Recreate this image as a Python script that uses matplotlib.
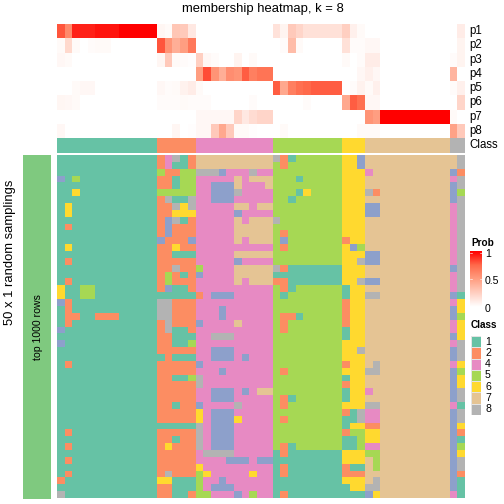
#membership heatmap for k = 8, one class per row/column cell, probabilities on top
import matplotlib
matplotlib.use('Agg')
import matplotlib.pyplot as plt
from matplotlib.colors import ListedColormap, LinearSegmentedColormap
import numpy as np

plt.rcParams['font.family'] = ['Liberation Sans', 'DejaVu Sans']

class_labels = [1, 2, 4, 5, 6, 7, 8]
class_counts = [13, 5, 10, 9, 3, 11, 2]
prob_names = ['p1', 'p2', 'p3', 'p4', 'p5', 'p6', 'p7', 'p8']
prob_ticks = ['1', '0.5', '0']

#class colours, index 0 is class 1
class_colors = ['#66C2A5', '#FC8D62', '#8DA0CB', '#E78AC3', '#A6D854', '#FFD92F', '#E5C494', '#B3B3B3']

#membership probabilities, 53 columns each
p1 = [.8, .6, .92, .92, .92, .95, .95, .95, 1, 1, 1, 1, 1, .05, .03, .3, .28, .12, 0, 0, 0, 0, 0, 0, 0, 0, 0, 0,
      .15, .06, .28, .22, .16, .16, .16, .16, .16, .25, .08, .03, 0, 0, 0, 0, 0, 0, 0, 0, 0, 0, 0, 0, .1]
p2 = [.03, .2, .03, 0, .02, .03, .03, 0, 0, 0, 0, 0, 0, .8, .55, .42, .5, .68, 0, 0, 0, 0, 0, 0, 0, 0, 0, 0,
      0, .02, .35, .03, 0, 0, 0, 0, 0, .16, .02, .02, .04, .04, 0, 0, 0, 0, 0, 0, 0, 0, 0, 0, .06]
p3 = [.04, .03, 0, 0, 0, 0, 0, 0, 0, 0, 0, 0, 0, .05, .28, .03, .02, .01, .25, .04, .02, 0, 0, .06, 0, .03, 0, 0,
      0, 0, 0, 0, 0, 0, 0, 0, 0, .03, 0, .02, .1, .1, 0, 0, 0, 0, 0, 0, 0, 0, 0, .02, .06]
p4 = [0, 0, 0, 0, 0, 0, 0, 0, 0, 0, 0, 0, 0, 0, 0, 0, 0, 0, .5, .82, .55, .42, .58, .55, .78, .65, .7, .7,
      0, 0, 0, 0, 0, 0, 0, 0, 0, 0, 0, .04, .08, .04, 0, 0, 0, 0, 0, 0, 0, 0, 0, .38, 0]
p5 = [0, 0, .03, .04, .04, 0, 0, 0, 0, 0, 0, 0, 0, .04, .02, .03, .07, .1, .03, 0, 0, 0, 0, 0, 0, 0, 0, 0,
      .78, .45, .65, .72, .75, .78, .78, .78, .78, 0, .02, .07, .03, .08, 0, 0, 0, 0, 0, 0, 0, 0, 0, .02, .08]
p6 = [.05, .04, .03, 0, 0, 0, 0, 0, 0, 0, 0, 0, 0, .02, .02, .02, .03, .02, .02, .02, 0, 0, 0, 0, 0, .02, 0, 0,
      0, 0, 0, 0, .02, 0, 0, 0, 0, .45, .78, .72, .04, .04, 0, 0, 0, 0, 0, 0, 0, 0, 0, 0, .22]
p7 = [0, 0, 0, 0, 0, 0, 0, 0, 0, 0, 0, 0, 0, 0, 0, 0, 0, 0, .04, .04, .04, .04, .04, .22, .12, .18, .22, .22,
      0, 0, 0, 0, 0, 0, 0, 0, 0, 0, 0, 0, .55, .5, 1, 1, 1, 1, 1, 1, 1, 1, 1, .03, 0]
p8 = [.04, 0, 0, 0, 0, 0, 0, 0, 0, 0, 0, 0, 0, 0, 0, .05, 0, .01, .04, .04, .28, .45, .28, .03, .03, .01, 0, 0,
      0, .03, 0, 0, 0, 0, 0, 0, 0, 0, 0, .03, .03, .03, 0, 0, 0, 0, 0, 0, 0, 0, 0, .48, .28]

#class found in each random sampling, groups split by consensus class
sampling_rows = [
    '1111111111111 24812 7777777777 821555555 663 77777777777 78',
    '1111111111111 24112 7777777777 525555555 663 77777777777 78',
    '1111111111111 52255 8883444844 555555555 666 47777777777 32',
    '3151111111111 22155 4444474777 555155555 666 77777777777 48',
    '1111111111111 22155 4433374447 555555555 666 77777777777 38',
    '1161111111111 55555 4433384444 555165555 666 82777777777 35',
    '1111111111111 28118 4433344444 551555555 666 77777777777 38',
    '1611111111111 22868 4444477477 555555555 666 33777777777 48',
    '1611111111111 22666 4444434444 555555555 666 33777777777 48',
    '1111111111111 23812 4444474777 855555555 666 77777777777 48',
    '1211111111111 23222 4444477777 555555555 666 77777777777 48',
    '1111111111111 23222 4444477777 525555555 666 77777777777 48',
    '1111111111111 32223 4444474777 535555555 266 77777777777 48',
    '1611111111111 22622 4444444444 525555555 635 77777777777 48',
    '1111111111111 22111 4444477777 555555555 666 33777777777 48',
    '1211111111111 22222 4444434444 555555555 668 33777777777 48',
    '1111111111111 22822 5444477777 821111111 666 77777777777 38',
    '1111111111111 25212 3444477777 111111111 666 77777777777 48',
    '1211111111111 25222 4444474777 221111111 668 33777777777 48',
    '6115511111111 23112 4444444444 521555555 166 77777777777 48',
    '6115511111111 11111 2433344444 515555555 166 88777777777 31',
    '3211111111111 88222 4444444444 555555555 266 77777777777 46',
    '1211111111111 88222 4443444444 555555555 266 77777777777 36',
    '1221122211111 88222 4443444444 522155555 266 77777777777 35',
    '1211111111111 28222 3444474444 525555555 266 77777777777 46',
    '3111111111111 28112 4444444444 525555555 166 77777777777 46',
    '1111111111111 22111 4488844444 555555555 166 77777777777 36',
    '3111111111111 22115 4444444444 555555555 666 77777777777 48',
    '1111111111111 22222 4433344444 555555555 668 77777777777 38',
    '1111111111111 12111 4433343444 555555555 666 77777777777 38',
    '1211111111111 22222 3444444444 555555555 266 78777777777 46',
    '1111111111111 22222 4443444444 525555555 666 88777777777 35',
    '1111111111111 22115 8444444444 555555555 166 77777777777 36',
    '1111111111111 22222 8444444444 555555555 266 77777777777 36',
    '1111111111111 22222 4433343477 555555555 166 47777777777 38',
    '1111111111111 22222 4433344444 521555555 166 77777777777 38',
    '1111111111111 22122 3444484444 525555555 666 88777777777 41',
    '1111111111111 22222 6433344444 555555555 218 44777777777 38',
    '1111111111111 22222 6433364444 525555555 118 44777777777 38',
    '1111111111111 11111 8433344444 555555555 166 22777777777 36',
    '1211111111111 22222 8433344444 555555555 255 66777777777 32',
    '1111111111111 22122 8433344444 555555555 115 66777777777 31',
    '1211111111111 26222 8433344444 521555555 115 44777777777 35',
    '1111111111111 22222 4888844444 121111111 666 55777777777 36',
    '1211111111111 22222 4444333433 111111111 666 75777777777 38',
    '1111111111111 22222 6444444444 121111111 211 75777777777 38',
    '1211111111111 28222 5644444644 121111111 222 77777777777 32',
    '2111111111111 66111 5443444444 111111111 666 78777777777 31',
    '1111111111111 22111 5433344444 111111111 166 88777777777 31',
    '8111111111111 22112 5544434544 121111111 111 36777777777 41',
]


#axes placed in pixels measured from the top left of the 504x504 picture
def px_axes(left, top, right, bottom):
    ax = fig.add_axes([left / 504, 1 - bottom / 504, (right - left) / 504, (bottom - top) / 504])
    ax.set_axis_off()
    return ax


def px_text(x, y, s, **kw):
    fig.text(x / 504, 1 - y / 504, s, **kw)


fig = plt.figure(figsize=(7, 7), dpi=72)

class_cmap = ListedColormap(class_colors)
prob_cmap = LinearSegmentedColormap.from_list(
    'prob', ['#FFFFFF', '#FFCFC1', '#FF9E81', '#FF6A4B', '#FF0000'])

#probability rows
probs = np.array([p1, p2, p3, p4, p5, p6, p7, p8])
ax = px_axes(57, 24, 465, 138)
ax.pcolormesh(probs, cmap=prob_cmap, vmin=0, vmax=1, antialiased=False)
ax.invert_yaxis()

#consensus class bar
consensus = np.repeat(class_labels, class_counts)
ax = px_axes(57, 138, 465, 153)
ax.pcolormesh(consensus.reshape(1, -1), cmap=class_cmap, vmin=0.5, vmax=8.5, antialiased=False)

#main heatmap
matrix = np.array([[int(ch) for ch in row.replace(' ', '')] for row in sampling_rows])
ax = px_axes(57, 155, 465, 498)
ax.pcolormesh(matrix, cmap=class_cmap, vmin=0.5, vmax=8.5, antialiased=False)
ax.invert_yaxis()

#green bar on the left
ax = px_axes(23, 155, 51, 499)
ax.set_facecolor('#7FC97F')
ax.set_axis_on()
ax.set_xticks([])
ax.set_yticks([])
for side in ax.spines.values():
    side.set_visible(False)

#texts
px_text(263, 9, 'membership heatmap, k = 8', fontsize=13, ha='center', va='center')
px_text(10, 252, '50 x 1 random samplings', fontsize=13, rotation=90, ha='center', va='center')
px_text(38, 327, 'top 1000 rows', fontsize=10.5, rotation=90, ha='center', va='center')
for i, name in enumerate(prob_names):
    px_text(469, 24 + (i + 0.5) * 114 / 8, name, fontsize=11.5, ha='left', va='center')
px_text(469, 145.5, 'Class', fontsize=11.5, ha='left', va='center')

#Prob legend
px_text(471, 243, 'Prob', fontsize=10, fontweight='bold', ha='left', va='center')
ax = px_axes(470, 251, 482, 307)
ax.imshow(np.linspace(1, 0, 100).reshape(-1, 1), cmap=prob_cmap, vmin=0, vmax=1, aspect='auto',
          extent=[0, 1, 0, 1])
for v in [0.03, 0.5]:
    ax.plot([0, 0.2], [1 - v, 1 - v], color='white', lw=0.6)
    ax.plot([0.8, 1], [1 - v, 1 - v], color='white', lw=0.6)
ax.set_xlim(0, 1)
ax.set_ylim(0, 1)
for y, tick in zip([254, 281.5, 309], prob_ticks):
    px_text(485, y, tick, fontsize=10.5, ha='left', va='center')

#Class legend
px_text(471, 325, 'Class', fontsize=10, fontweight='bold', ha='left', va='center')
ax = px_axes(471, 336, 481, 415)
ax.pcolormesh(np.array(class_labels).reshape(-1, 1), cmap=class_cmap, vmin=0.5, vmax=8.5,
              edgecolors='#E4E4E4', linewidth=0.8)
ax.invert_yaxis()
for i, label in enumerate(class_labels):
    px_text(485, 336 + (i + 0.5) * 79 / 7, str(label), fontsize=10.5, ha='left', va='center')

fig.savefig('out.png', dpi=72)
